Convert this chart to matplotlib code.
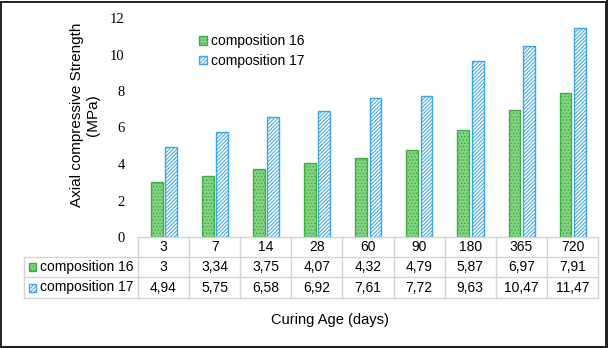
import matplotlib
matplotlib.use("Agg")
import matplotlib.pyplot as plt
from matplotlib.patches import Rectangle
from matplotlib.lines import Line2D
import numpy as np

categories = ["3", "7", "14", "28", "60", "90", "180", "365", "720"]
comp16 = [3, 3.34, 3.75, 4.07, 4.32, 4.79, 5.87, 6.97, 7.91]
comp17 = [4.94, 5.75, 6.58, 6.92, 7.61, 7.72, 9.63, 10.47, 11.47]
series_names = ["composition 16", "composition 17"]
yticks = [0, 2, 4, 6, 8, 10, 12]

plt.rcParams['font.family'] = ['Liberation Sans', 'DejaVu Sans']
plt.rcParams['hatch.linewidth'] = 0.75

W, H = 608, 348
fig = plt.figure(figsize=(W / 100, H / 100), dpi=100)
ax = fig.add_axes([138 / W, (H - 237) / H, 460 / W, 219 / H])

x = np.arange(len(categories))
bw = 0.23
green_face = '#86d486'
green_edge = '#3fae3f'
blue_face = 'white'
blue_edge = '#3da6ea'
g_style = dict(facecolor=green_face, edgecolor=green_edge, hatch='.....', linewidth=1.0)
b_style = dict(facecolor=blue_face, edgecolor=blue_edge, hatch='/' * 9, linewidth=1.0)

ax.bar(x - 0.135, comp16, bw, label=series_names[0], **g_style)
ax.bar(x + 0.145, comp17, bw, label=series_names[1], **b_style)

ax.set_xlim(-0.5, len(categories) - 0.5)
ax.set_ylim(0, 12)
ax.set_yticks(yticks)
ax.set_yticklabels([str(t) for t in yticks], family='Liberation Serif', fontsize=10.5)
ax.tick_params(axis='y', length=0, pad=9.5)
ax.set_xticks([])
for s in ax.spines.values():
    s.set_visible(False)

leg = ax.legend(loc='upper left', bbox_to_anchor=(0.117, 0.958), frameon=False,
                fontsize=10, handlelength=0.6, handleheight=0.6, handletextpad=0.3,
                borderpad=0, labelspacing=0.42)

# data table below axes
trans = ax.get_xaxis_transform()
grid_c = '#d4d4d4'
row_y = [0, -20 / 219, -40 / 219, -61 / 219]
lab_left = (24 - 138) / 460
n = len(categories)
ax.add_line(Line2D([-0.5, n - 0.5], [0, 0], transform=trans, color=grid_c, lw=1, clip_on=False))
for yy in row_y[1:]:
    ax.add_line(Line2D([lab_left, 1], [yy, yy], transform=ax.transAxes, color=grid_c, lw=1, clip_on=False))
for i in range(n + 1):
    ax.add_line(Line2D([i - 0.5, i - 0.5], [0, row_y[-1]], transform=trans, color=grid_c, lw=1, clip_on=False))
ax.add_line(Line2D([lab_left, lab_left], [row_y[1], row_y[-1]], transform=ax.transAxes, color=grid_c, lw=1, clip_on=False))

def fmt(v):
    return f"{v:g}".replace('.', ',')

for i, c in enumerate(categories):
    ax.text(i, (row_y[0] + row_y[1]) / 2, c, transform=trans, ha='center', va='center', fontsize=10)
    ax.text(i, (row_y[1] + row_y[2]) / 2, fmt(comp16[i]), transform=trans, ha='center', va='center', fontsize=10)
    ax.text(i, (row_y[2] + row_y[3]) / 2, fmt(comp17[i]), transform=trans, ha='center', va='center', fontsize=10)

for k, (name, st) in enumerate(zip(series_names, [g_style, b_style])):
    yc = (row_y[k + 1] + row_y[k + 2]) / 2
    ax.add_patch(Rectangle(((29 - 138) / 460, yc - 4 / 219), 7 / 460, 8 / 219,
                           transform=ax.transAxes, clip_on=False, **st))
    ax.text((40 - 138) / 460, yc, name, transform=ax.transAxes, ha='left', va='center', fontsize=10)

fig.text(85 / W, 1 - 115 / H, "Axial compressive Strength\n(MPa)", rotation=90,
         ha='center', va='center', multialignment='center', fontsize=11, linespacing=1.15)
fig.text(330 / W, 1 - 320 / H, "Curing Age (days)", ha='center', va='center', fontsize=10.5)

fig.add_artist(Rectangle((1 / W, 1 / H), (W - 3) / W, (H - 2.5) / H, transform=fig.transFigure,
                         fill=False, edgecolor='#222222', lw=1.4))
fig.add_artist(Line2D([(W - 1.5) / W, (W - 1.5) / W], [0, 1], transform=fig.transFigure, color='#222222', lw=2.2))
fig.add_artist(Line2D([0, 1], [1.5 / H, 1.5 / H], transform=fig.transFigure, color='#222222', lw=2.2))

fig.savefig("out.png", dpi=100)
